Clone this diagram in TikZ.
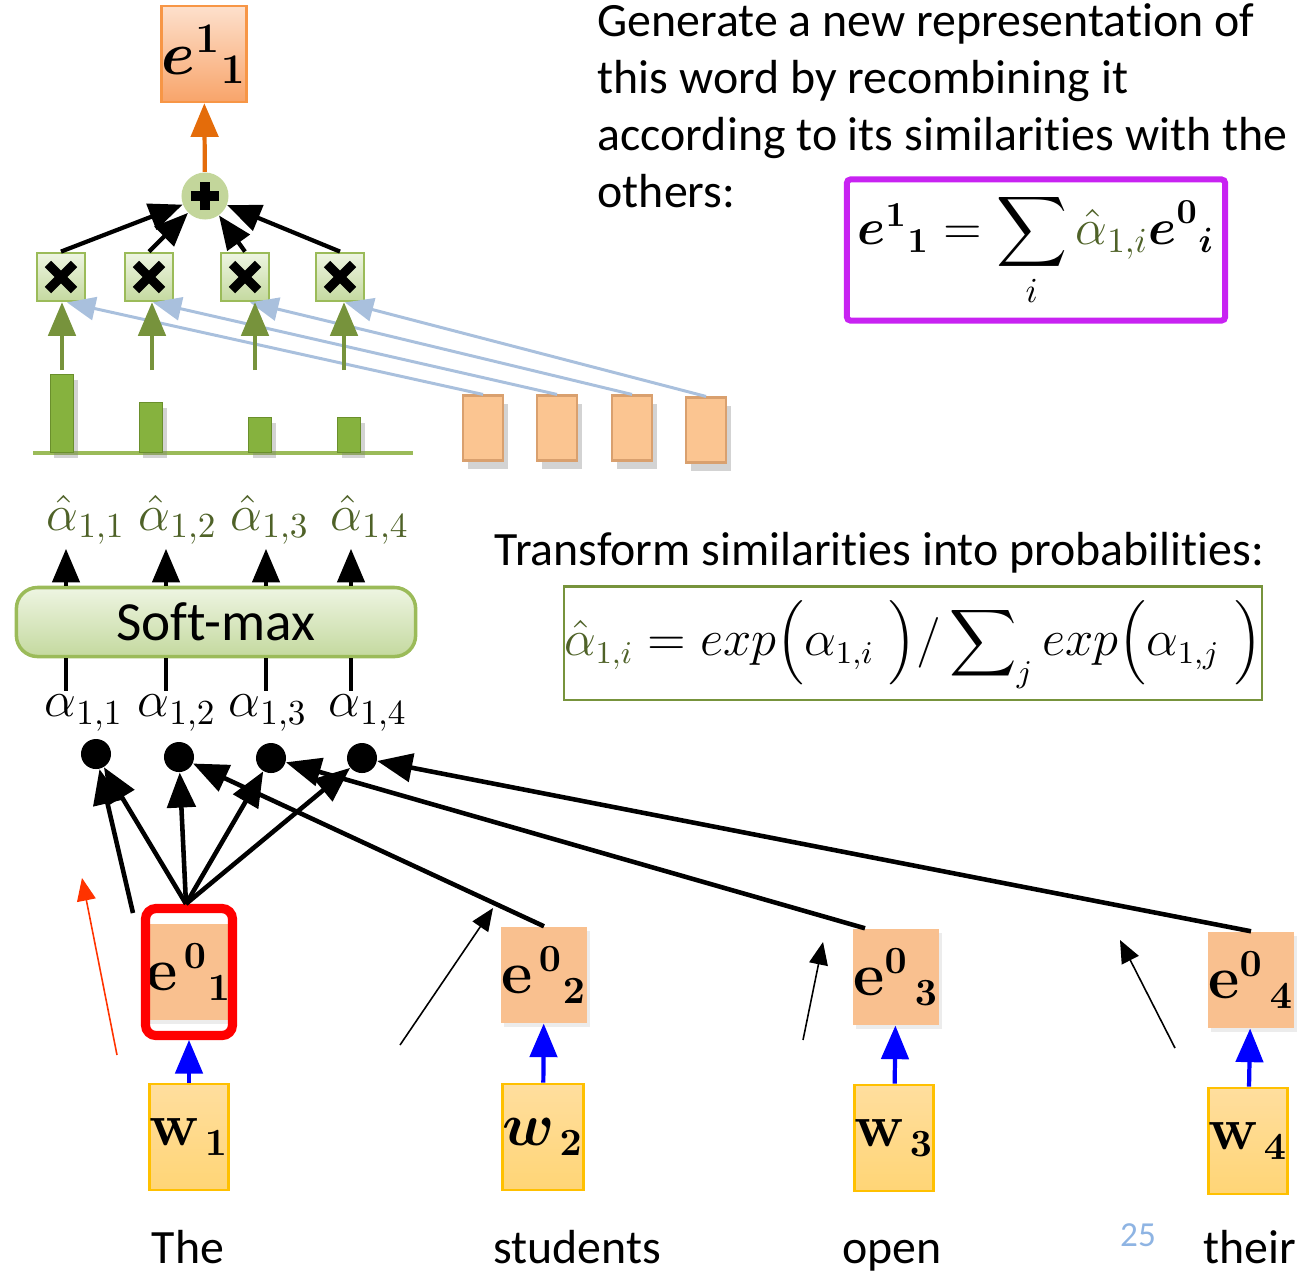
\documentclass[tikz,border=0pt]{standalone}
\usepackage{amsmath,amssymb,bm}
\usepackage[no-math]{fontspec}
\setmainfont[Ligatures=NoCommon]{Carlito}
\usetikzlibrary{arrows,%
                shapes,positioning,shadows}

\definecolor{orgt}{HTML}{FDE0CC}
\definecolor{orgm}{HTML}{F8A46A}
\definecolor{orgb}{HTML}{F79646}
\definecolor{orgarrow}{HTML}{E46C0A}
\definecolor{pgreen}{HTML}{C3D69B}
\definecolor{mtop}{HTML}{EEF5E2}
\definecolor{mbot}{HTML}{C4D99F}
\definecolor{gborder}{HTML}{9BBB59}
\definecolor{garrow}{HTML}{77933C}
\definecolor{barg}{HTML}{86B23E}
\definecolor{bard}{HTML}{6A8F2C}
\definecolor{simblue}{HTML}{A9C0DD}
\definecolor{vecf}{HTML}{FBC591}
\definecolor{vecd}{HTML}{D9A06E}
\definecolor{hatg}{HTML}{4F6228}
\definecolor{peach}{HTML}{F9C08F}
\definecolor{wtop}{HTML}{FFDE9E}
\definecolor{wbot}{HTML}{FFD576}
\definecolor{wborder}{HTML}{FFC000}
\definecolor{purp}{HTML}{C822F2}
\definecolor{pagenum}{HTML}{8EB4E3}
\definecolor{redarrow}{HTML}{FF3300}

\tikzset{
  emb1/.style={draw=orgb, line width=0.8pt, top color=orgt, bottom color=orgm,
    minimum width=0.73cm, minimum height=0.96cm, inner sep=0pt,
    font=\fontsize{17}{17}\selectfont},
  plus/.style={circle, fill=pgreen, minimum size=0.47cm, inner sep=0pt,
    path picture={\draw[black, line width=2.6pt]
      ([xshift=-0.14cm]path picture bounding box.center) -- ([xshift=0.14cm]path picture bounding box.center)
      ([yshift=-0.14cm]path picture bounding box.center) -- ([yshift=0.14cm]path picture bounding box.center);}},
  mult/.style={draw=gborder, line width=0.8pt, top color=mtop, bottom color=mbot,
    minimum size=0.48cm, inner sep=0pt,
    path picture={\draw[black, line width=2.6pt]
      ([shift={(-0.13cm,-0.13cm)}]path picture bounding box.center) -- ([shift={(0.13cm,0.13cm)}]path picture bounding box.center)
      ([shift={(-0.13cm,0.13cm)}]path picture bounding box.center) -- ([shift={(0.13cm,-0.13cm)}]path picture bounding box.center);}},
  bar/.style={anchor=south, fill=barg, draw=bard, line width=0.4pt,
    minimum width=0.23cm, inner sep=0pt,
    drop shadow={opacity=0.35, shadow xshift=0.4mm, shadow yshift=-0.6mm}},
  vec/.style={fill=vecf, draw=vecd, line width=0.6pt, minimum width=0.40cm,
    minimum height=0.65cm, inner sep=0pt,
    drop shadow={opacity=0.35, shadow xshift=0.5mm, shadow yshift=-0.8mm}},
  emb0/.style={fill=peach, minimum width=0.78cm, minimum height=0.96cm,
    inner sep=0pt, font=\fontsize{16}{16}\selectfont,
    drop shadow={opacity=0.15, shadow xshift=0.3mm, shadow yshift=-0.4mm}},
  frame/.style={draw=red, line width=2.6pt, rounded corners=3pt,
    minimum width=0.87cm, minimum height=1.27cm, inner sep=0pt},
  wbox/.style={draw=wborder, line width=0.8pt, top color=wtop, bottom color=wbot,
    minimum width=0.74cm, minimum height=1.06cm, inner sep=0pt,
    font=\fontsize{16}{16}\selectfont},
  dot/.style={circle, fill=black, minimum size=0.30cm, inner sep=0pt},
  smax/.style={draw=gborder, line width=1pt, rounded corners=6pt,
    top color=mtop, bottom color=mbot, minimum width=3.99cm,
    minimum height=0.69cm, font=\fontsize{15.7}{16}\selectfont},
  hatlbl/.style={text=hatg, inner sep=1pt, font=\fontsize{14.5}{14.5}\selectfont},
  alphalbl/.style={inner sep=1pt, font=\fontsize{14.5}{14.5}\selectfont},
  words/.style={inner sep=0pt, font=\fontsize{13.6}{16.2}\selectfont},
  formula/.style={inner sep=0pt},
  bigarrow/.style={->, >=triangle 45, line width=1.3pt},
  midarrow/.style={->, >=triangle 45, line width=1.2pt},
  thinarrow/.style={->, >=triangle 45, line width=0.45pt},
  simline/.style={->, >=triangle 45, draw=simblue, line width=0.85pt},
}

\begin{document}
\begin{tikzpicture}[x=0.01cm,y=-0.01cm]
\useasboundingbox (0,0) rectangle (1316,1272);
%\draw[help lines] (0,0) grid[step=100] (1316,1272);

% attention output
\node[emb1] (e11) at (204,54) {$\bm{e}^{\mathbf 1}{}_{\mathbf 1}$};
\node[plus] (sum) at (205,196) {};
\node[mult] (m1) at (61,277) {};
\node[mult] (m2) at (149,277) {};
\node[mult] (m3) at (245,277) {};
\node[mult] (m4) at (340,277) {};

% weights
\draw[gborder, line width=0.9pt] (33,453) -- (413,453);
\node[bar, minimum height=0.78cm] (b1) at (62,453) {};
\node[bar, minimum height=0.50cm] (b2) at (151,453) {};
\node[bar, minimum height=0.35cm] (b3) at (260,453) {};
\node[bar, minimum height=0.35cm] (b4) at (349,453) {};
\coordinate (g1) at (62,370);
\coordinate (g2) at (152,370);
\coordinate (g3) at (255,370);
\coordinate (g4) at (344,370);

% value vectors
\node[vec] (v1) at (483,428) {};
\node[vec] (v2) at (557,428) {};
\node[vec] (v3) at (632,428) {};
\node[vec] (v4) at (706,430) {};

% soft-max
\node[hatlbl] (ah1) at (86,520) {$\hat\alpha_{1,1}$};
\node[hatlbl] (ah2) at (178,520) {$\hat\alpha_{1,2}$};
\node[hatlbl] (ah3) at (270,520) {$\hat\alpha_{1,3}$};
\node[hatlbl] (ah4) at (370,520) {$\hat\alpha_{1,4}$};
\node[smax] (sm) at (216,622) {Soft-max};
\node[alphalbl] (a1) at (84,713) {$\alpha_{1,1}$};
\node[alphalbl] (a2) at (177,713) {$\alpha_{1,2}$};
\node[alphalbl] (a3) at (268,713) {$\alpha_{1,3}$};
\node[alphalbl] (a4) at (368,713) {$\alpha_{1,4}$};
\coordinate (c1) at (66,0);
\coordinate (c2) at (166,0);
\coordinate (c3) at (266,0);
\coordinate (c4) at (351,0);
\node[dot] (d1) at (96,754) {};
\node[dot] (d2) at (179,757) {};
\node[dot] (d3) at (271,758) {};
\node[dot] (d4) at (362,758) {};

% embeddings and words
\node[emb0] (e1) at (189,972) {$\mathbf{e}^{\,\mathbf 0}{}_{\mathbf 1}$};
\node[frame] (fr) at (189,972) {};
\node[emb0] (e2) at (544,975) {$\mathbf{e}^{\,\mathbf 0}{}_{\mathbf 2}$};
\node[emb0] (e3) at (896,977) {$\mathbf{e}^{\mathbf 0}{}_{\,\mathbf 3}$};
\node[emb0] (e4) at (1251,980) {$\mathbf{e}^{\mathbf 0}{}_{\,\mathbf 4}$};
\node[wbox] (w1) at (189,1137) {$\mathbf{w}_{\,\mathbf 1}$};
\node[wbox] (w2) at (543,1137) {$\bm{w}_{\,\mathbf 2}$};
\node[wbox] (w3) at (894,1138) {$\mathbf{w}_{\,\mathbf 3}$};
\node[wbox] (w4) at (1248,1141) {$\mathbf{w}_{\,\mathbf 4}$};
\node[words, anchor=base] (t1) at (188,1263) {The};
\node[words, anchor=base] (t2) at (577,1263) {students};
\node[words, anchor=base] (t3) at (892,1263) {open};
\node[words, anchor=base] (t4) at (1250,1263) {their};
\node[anchor=base, text=pagenum, font=\fontsize{10}{10}\selectfont] (pg) at (1138,1246) {25};
\coordinate (e1l) at (133,913);
\coordinate (r0) at (117,1055);
\coordinate (r1) at (82,878);
\coordinate (s0) at (400,1045);
\coordinate (s1) at (493,908);
\coordinate (o0) at (803,1040);
\coordinate (o1) at (823,942);
\coordinate (h0) at (1175,1048);
\coordinate (h1) at (1120,940);

% explanations
\node[words, anchor=north west, align=left] (txt1) at (597,3)
  {Generate a new representation of\\this word by recombining it\\according to its similarities with the\\others:};
\node[formula, draw=purp, line width=1.7pt, rounded corners=1pt,
  minimum width=3.78cm, minimum height=1.41cm, font=\fontsize{14}{17}\selectfont] (f1) at (1036,250)
  {$\bm{e}^{\mathbf 1}{}_{\mathbf 1} = \displaystyle\sum_i \textcolor{hatg}{\hat\alpha_{1,i}}\bm{e}^{\mathbf 0}{}_{\bm i}$};
\node[words, anchor=base west] (txt2) at (494,565) {Transform similarities into probabilities:};
\node[formula, draw=garrow, line width=0.6pt,
  minimum width=6.78cm, minimum height=1.13cm, font=\fontsize{13.3}{16}\selectfont] (f2) at (913,643)
  {$\textcolor{hatg}{\hat\alpha_{1,i}} = exp\Big(\alpha_{1,i}\;\Big)/\displaystyle\sum\nolimits_j exp\Big(\alpha_{1,j}\;\Big)$};

% connectors
\draw[midarrow, orgarrow] (sum) -- (e11);
\draw[midarrow] (m1.north) -- (sum);
\draw[midarrow] (m2.north) -- (sum);
\draw[midarrow] (m3.north) -- (sum);
\draw[midarrow] (m4.north) -- (sum);
\draw[simline] (v1.north) -- ([xshift=0.06cm]m1.south);
\draw[simline] (v2.north) -- ([xshift=0.04cm]m2.south);
\draw[simline] (v3.north) -- ([xshift=0.05cm]m3.south);
\draw[simline] (v4.north) -- ([xshift=0.05cm]m4.south);
\draw[midarrow, garrow] (g1) -- (g1 |- m1.south);
\draw[midarrow, garrow] (g2) -- (g2 |- m2.south);
\draw[midarrow, garrow] (g3) -- (g3 |- m3.south);
\draw[midarrow, garrow] (g4) -- (g4 |- m4.south);
\draw[midarrow] (sm.north -| c1) -- (ah1.south -| c1);
\draw[midarrow] (sm.north -| c2) -- (ah2.south -| c2);
\draw[midarrow] (sm.north -| c3) -- (ah3.south -| c3);
\draw[midarrow] (sm.north -| c4) -- (ah4.south -| c4);
\draw[line width=1.2pt] (a1.north -| c1) -- (sm.south -| c1);
\draw[line width=1.2pt] (a2.north -| c2) -- (sm.south -| c2);
\draw[line width=1.2pt] (a3.north -| c3) -- (sm.south -| c3);
\draw[line width=1.2pt] (a4.north -| c4) -- (sm.south -| c4);
\draw[bigarrow] (e1l) -- (d1);
\draw[bigarrow] ([xshift=-0.03cm]fr.north) -- (d1);
\draw[bigarrow] ([xshift=-0.03cm]fr.north) -- (d2);
\draw[bigarrow] ([xshift=-0.03cm]fr.north) -- (d3);
\draw[bigarrow] ([xshift=-0.03cm]fr.north) -- (d4);
\draw[bigarrow] (e2.north) -- (d2);
\draw[bigarrow] ([xshift=-0.31cm]e3.north) -- (d3);
\draw[bigarrow] (e4.north) -- (d4);
\draw[thinarrow, redarrow] (r0) -- (r1);
\draw[thinarrow] (s0) -- (s1);
\draw[thinarrow] (o0) -- (o1);
\draw[thinarrow] (h0) -- (h1);
\draw[midarrow, blue] (w1) -- (fr);
\draw[midarrow, blue] (w2) -- (e2);
\draw[midarrow, blue] (w3) -- (e3);
\draw[midarrow, blue] (w4) -- (e4);
\end{tikzpicture}
\end{document}
